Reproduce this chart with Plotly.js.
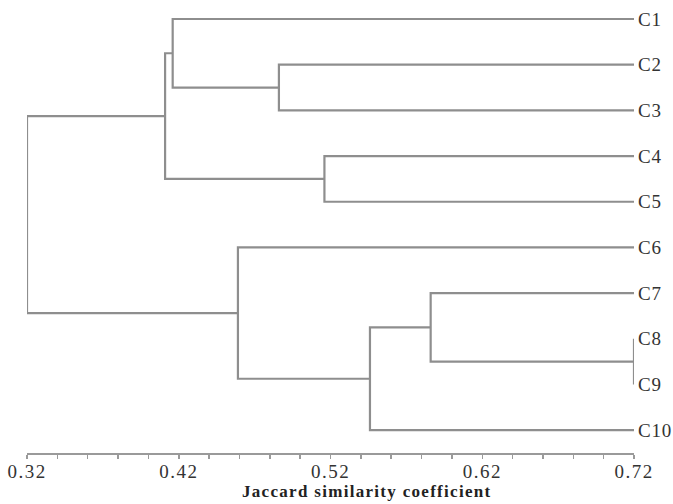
<!DOCTYPE html>
<html>
<head>
<meta charset="utf-8">
<script src="https://cdn.plot.ly/plotly-3.0.1.min.js"></script>
<style>
html,body{margin:0;padding:0;background:#fff;}
#chart{width:673px;height:504px;}
.xtick text{letter-spacing:1.5px;}
g.xtick{transform:translateY(-4px);}
.ytick text{letter-spacing:0.8px;}
.annotation-text{letter-spacing:1.3px;}
</style>
</head>
<body>
<div id="chart"></div>
<script>
// Leaves (top to bottom)
const leaves = ['C1','C2','C3','C4','C5','C6','C7','C8','C9','C10'];
// Linkage: cluster ids 0-9 are leaves, merges get ids 10, 11, ...
const mergeLeft  = [7, 1, 3, 6, 13, 0, 15, 5, 16];
const mergeRight = [8, 2, 4, 10, 9, 11, 12, 14, 17];
const mergeSim   = [0.72, 0.486, 0.516, 0.586, 0.546, 0.416, 0.411, 0.459, 0.32];
// Axis ticks
const tickVals = [0.32, 0.42, 0.52, 0.62, 0.72];
const tickText = ['0.32', '0.42', '0.52', '0.62', '0.72'];
const axisTitle = 'Jaccard similarity coefficient';

// Compute node positions
const nodeX = [], nodeY = [];
leaves.forEach((l, i) => { nodeX[i] = 0.72; nodeY[i] = i; });
const xs = [], ys = [];
mergeLeft.forEach((a, k) => {
  const b = mergeRight[k];
  const id = leaves.length + k;
  const s = mergeSim[k];
  xs.push(nodeX[a], s, s, nodeX[b], null);
  ys.push(nodeY[a], nodeY[a], nodeY[b], nodeY[b], null);
  nodeX[id] = s;
  nodeY[id] = (nodeY[a] + nodeY[b]) / 2;
});

const serif = 'Liberation Serif, Times New Roman, serif';
const lineColor = '#8e8e8e';
const traces = [{
  type: 'scatter', mode: 'lines', x: xs, y: ys,
  line: {color: lineColor, width: 2.2},
  cliponaxis: false, hoverinfo: 'skip', showlegend: false
}];

const layout = {
  width: 673, height: 504,
  margin: {l: 27, r: 39, t: 0, b: 51},
  paper_bgcolor: '#fff', plot_bgcolor: '#fff',
  showlegend: false,
  font: {family: serif, color: '#222'},
  xaxis: {
    range: [0.32, 0.72], showgrid: false, zeroline: false,
    showline: true, linecolor: '#9a9a9a', linewidth: 2,
    ticks: 'outside', ticklen: 4, tickwidth: 1.5, tickcolor: '#9a9a9a',
    tickvals: tickVals, ticktext: tickText,
    tickfont: {family: serif, size: 19, color: '#333'},
    minor: {dtick: 0.02, tick0: 0.32, ticks: 'outside', ticklen: 4, tickwidth: 1.5, tickcolor: '#9a9a9a', showgrid: false}
  },
  yaxis: {
    range: [9.5, -0.416], side: 'right', showgrid: false, zeroline: false,
    showline: false, ticks: '', tickvals: leaves.map((l, i) => i), ticktext: leaves,
    tickfont: {family: serif, size: 19, color: '#333'}, ticklabelstandoff: 3
  },
  annotations: [{
    text: axisTitle, xref: 'paper', yref: 'paper',
    x: 0.56, y: -0.084, xanchor: 'center', yanchor: 'middle', showarrow: false,
    font: {family: serif, size: 17, color: '#222', weight: 'bold'}
  }]
};

Plotly.newPlot('chart', traces, layout, {staticPlot: true, displayModeBar: false});
</script>
</body>
</html>
